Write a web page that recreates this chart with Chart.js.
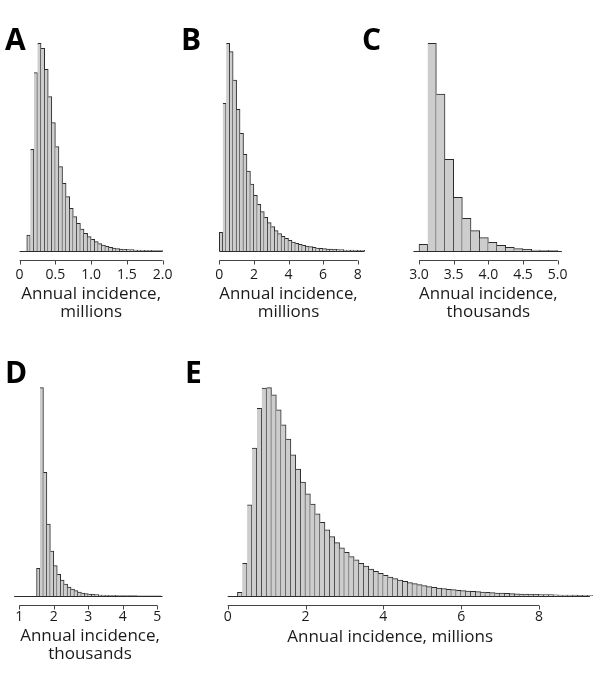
<!DOCTYPE html>
<html>
<head>
<meta charset="utf-8">
<script src="https://cdn.jsdelivr.net/npm/chart.js@4/dist/chart.umd.min.js"></script>
<style>
  html, body { margin: 0; padding: 0; background: #fff; }
  #wrap { position: relative; width: 600px; height: 675px; overflow: hidden; }
  #wrap canvas { position: absolute; left: 0; top: 0; }
  .tag { position: absolute; font-family: "Open Sans", sans-serif; font-weight: 700;
         font-size: 30px; line-height: 30px; color: #000; }
</style>
</head>
<body>
<div id="wrap">
  <canvas id="cA" width="600" height="675"></canvas>
  <canvas id="cB" width="600" height="675"></canvas>
  <canvas id="cC" width="600" height="675"></canvas>
  <canvas id="cD" width="600" height="675"></canvas>
  <canvas id="cE" width="600" height="675"></canvas>
  <div class="tag" style="left:5px;top:24px">A</div>
  <div class="tag" style="left:181px;top:24px">B</div>
  <div class="tag" style="left:362px;top:24px">C</div>
  <div class="tag" style="left:5px;top:357px">D</div>
  <div class="tag" style="left:185px;top:357px">E</div>
</div>
<script>
// histogram heights (arbitrary units, y axis not shown)
const countsA = [48, 305, 535, 623, 608, 545, 463, 385, 313, 253, 203, 163, 128, 103, 83,
  66, 53, 43, 35, 28, 22, 18, 14, 11, 9, 7, 6, 5, 4, 4, 3, 3, 2, 2, 2, 1, 1, 1];
const countsB = [56, 443, 623, 598, 513, 425, 353, 290, 240, 201, 167, 140, 118, 101, 85,
  73, 61, 52, 44, 38, 32, 27, 23, 20, 17, 15, 13, 11, 9, 8, 7, 6, 6, 5, 4, 4, 3, 3, 3, 2, 2, 2];
const countsC = [20, 623, 471, 275, 161, 98, 61, 40, 26, 17, 11, 7, 5, 3, 2, 1];
const countsD = [83, 625, 371, 216, 135, 91, 65, 48, 36, 27, 21, 16, 12, 9, 7, 6, 5, 4, 3, 3,
  2, 2, 2, 1, 1, 1, 1, 1, 1, 0.5, 0.5, 0.5, 0.5, 0.5, 0.5, 0.3];
const countsE = [11, 98, 273, 443, 562, 623, 624, 603, 558, 513, 470, 423, 380, 341, 306,
  275, 246, 221, 198, 178, 160, 144, 131, 118, 108, 98, 90, 81, 74, 68, 62, 57, 52, 48, 44,
  40, 37, 34, 31, 28, 26, 24, 22, 20, 19, 17, 16, 15, 14, 13, 12, 11, 10, 9, 8.5, 8, 7, 6.5,
  6, 5.5, 5, 5, 4.5, 4, 4, 3.5, 3, 3, 3, 2.5, 2, 2, 2];

// bin edges: first bin start and bin width
const binsA = { start: 0.1, width: 0.05 };
const binsB = { start: 0, width: 0.2 };
const binsC = { start: 3.0, width: 0.125 };
const binsD = { start: 1.5, width: 0.1 };
const binsE = { start: 0.25, width: 0.125 };

// tick labels
const ticksA = [0, 0.5, 1.0, 1.5, 2.0];
const ticksB = [0, 2, 4, 6, 8];
const ticksC = [3.0, 3.5, 4.0, 4.5, 5.0];
const ticksD = [1, 2, 3, 4, 5];
const ticksE = [0, 2, 4, 6, 8];

const titleMillions = ['Annual incidence,', 'millions'];
const titleThousands = ['Annual incidence,', 'thousands'];
const titleE = 'Annual incidence, millions';

// draws the base line under the bars and the detached axis line with tick marks
const histAxes = {
  id: 'histAxes',
  afterDatasetsDraw(chart, args, opts) {
    const { ctx, chartArea } = chart;
    const x = chart.scales.x;
    const y0 = Math.round(chartArea.bottom);
    ctx.save();
    ctx.strokeStyle = '#2b2b2b';
    ctx.lineWidth = 1;
    ctx.beginPath();
    ctx.moveTo(x.getPixelForValue(opts.base[0]), y0 + 0.5);
    ctx.lineTo(x.getPixelForValue(opts.base[1]), y0 + 0.5);
    ctx.stroke();

    const ya = y0 + 9.5;
    const t = x.ticks;
    ctx.strokeStyle = '#444';
    ctx.beginPath();
    ctx.moveTo(x.getPixelForValue(t[0].value), ya);
    ctx.lineTo(x.getPixelForValue(t[t.length - 1].value), ya);
    t.forEach(function (tk) {
      const px = Math.round(x.getPixelForValue(tk.value)) + 0.5;
      ctx.moveTo(px, ya);
      ctx.lineTo(px, ya + 4);
    });
    ctx.stroke();
    ctx.restore();
  }
};

function makePanel(id, p) {
  const points = p.counts.map(function (v, i) {
    return { x: p.bins.start + (i + 0.5) * p.bins.width, y: v };
  });
  const pxPerUnit = p.pxPerUnit;
  const leftPx = p.zeroPx + (p.xmin - p.zeroVal) * pxPerUnit;
  const rightPx = p.zeroPx + (p.xmax - p.zeroVal) * pxPerUnit;

  new Chart(document.getElementById(id).getContext('2d'), {
    type: 'bar',
    data: {
      datasets: [{
        data: points,
        backgroundColor: '#cdcdcd',
        borderColor: '#2b2b2b',
        borderWidth: function (c) {
          return { top: 1, right: 1, bottom: 0, left: c.dataIndex === 0 ? 1 : 0 };
        },
        borderSkipped: false,
        barPercentage: 1,
        categoryPercentage: 1,
        clip: false
      }]
    },
    options: {
      responsive: false,
      animation: false,
      layout: {
        padding: { left: leftPx, right: 600 - rightPx, top: p.top, bottom: 675 - p.axisBottom }
      },
      plugins: {
        legend: { display: false },
        tooltip: { enabled: false },
        histAxes: { base: p.base }
      },
      scales: {
        y: { display: false, min: 0, max: Math.max.apply(null, p.counts) },
        x: {
          type: 'linear',
          offset: false,
          min: p.xmin,
          max: p.xmax,
          grid: { display: false, drawTicks: false },
          border: { display: false },
          afterBuildTicks: function (s) {
            s.ticks = p.ticks.map(function (v) { return { value: v }; });
          },
          afterFit: function (s) { s.height = p.axisBottom - p.baseline; },
          ticks: {
            autoSkip: false,
            maxRotation: 0,
            padding: p.tickPad,
            color: '#1a1a1a',
            font: { family: 'Open Sans', size: 14 },
            callback: p.fmt
          },
          title: {
            display: true,
            text: p.title,
            color: '#1a1a1a',
            font: { family: 'Open Sans', size: 17, lineHeight: 1.06 },
            padding: { top: 0, bottom: p.titlePad }
          }
        }
      }
    },
    plugins: [histAxes]
  });
}

const oneDecimal = function (v) { return v === 0 ? '0' : v.toFixed(1); };
const plain = function (v) { return String(v); };

makePanel('cA', { counts: countsA, bins: binsA, ticks: ticksA, fmt: oneDecimal, title: titleMillions,
  zeroVal: 0, zeroPx: 19.3, pxPerUnit: 71.7, xmin: 0, xmax: 2.0, base: [0, 2.0],
  top: 43.3, baseline: 251, axisBottom: 325, tickPad: 15.6, titlePad: 4 });
makePanel('cB', { counts: countsB, bins: binsB, ticks: ticksB, fmt: plain, title: titleMillions,
  zeroVal: 0, zeroPx: 219.3, pxPerUnit: 17.3, xmin: 0, xmax: 8, base: [0, 8.4],
  top: 43.3, baseline: 251, axisBottom: 325, tickPad: 15.6, titlePad: 4 });
makePanel('cC', { counts: countsC, bins: binsC, ticks: ticksC, fmt: function (v) { return v.toFixed(1); },
  title: titleThousands,
  zeroVal: 3, zeroPx: 419, pxPerUnit: 69.35, xmin: 3, xmax: 5, base: [2.92, 5.06],
  top: 43.3, baseline: 251, axisBottom: 325, tickPad: 15.6, titlePad: 4 });
makePanel('cD', { counts: countsD, bins: binsD, ticks: ticksD, fmt: plain, title: titleThousands,
  zeroVal: 1, zeroPx: 19.3, pxPerUnit: 34.5, xmin: 1, xmax: 5.1, base: [0.85, 5.15],
  top: 387.7, baseline: 596, axisBottom: 665, tickPad: 12.6, titlePad: 2 });
makePanel('cE', { counts: countsE, bins: binsE, ticks: ticksE, fmt: plain, title: titleE,
  zeroVal: 0, zeroPx: 227.7, pxPerUnit: 38.91, xmin: 0, xmax: 8.35, base: [0, 9.31],
  top: 387.7, baseline: 596, axisBottom: 665, tickPad: 12.6, titlePad: 19 });
</script>
</body>
</html>
